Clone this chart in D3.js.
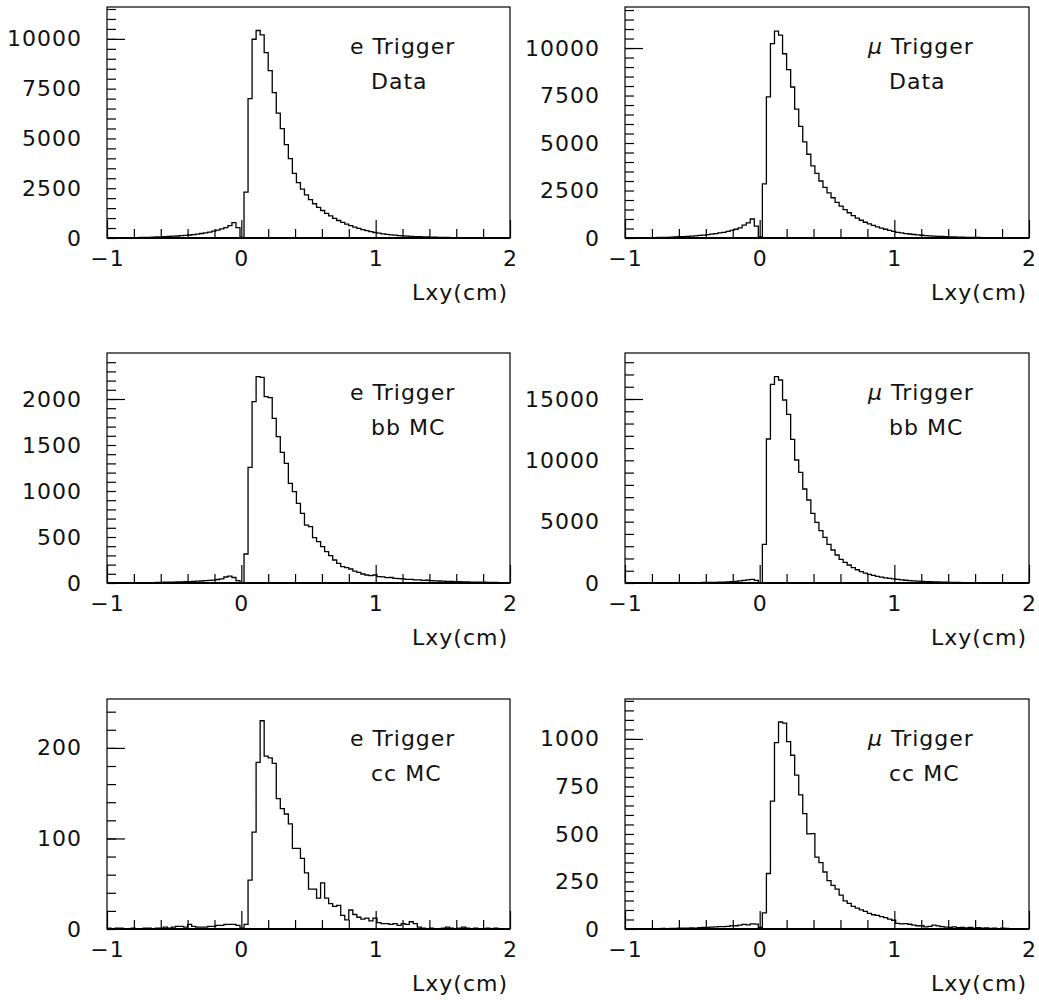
<!DOCTYPE html>
<html>
<head>
<meta charset="utf-8">
<script src="https://cdn.jsdelivr.net/npm/d3@7"></script>
<style>
  body { margin: 0; background: #fff; }
  svg text {
    font-family: "DejaVu Sans ExtraLight", "DejaVu Sans", sans-serif;
    font-size: 22px; fill: #111; letter-spacing: 1px;
  }
</style>
</head>
<body>
<div id="container"></div>
<script>
/**
 * CONSTANTS AND GLOBALS
 * */
const width = 1039, height = 1003;

// 100 bins of 0.03 cm between -1 and 2
const xLo = -1, xHi = 2, nBins = 100;
const xTickLabels = [-1, 0, 1, 2];
const xMinorTicks = [-0.8, -0.6, -0.4, -0.2, 0.2, 0.4, 0.6, 0.8, 1.2, 1.4, 1.6, 1.8];

const triggers = ["e", "μ", "e", "μ", "e", "μ"];
const samples = ["Data", "Data", "bb MC", "bb MC", "cc MC", "cc MC"];
const yMax = [11600, 12160, 2500, 18750, 254, 1210];
const yTickLabels = [
  [0, 2500, 5000, 7500, 10000],
  [0, 2500, 5000, 7500, 10000],
  [0, 500, 1000, 1500, 2000],
  [0, 5000, 10000, 15000],
  [0, 100, 200],
  [0, 250, 500, 750, 1000]
];
const yMinorStep = [500, 500, 100, 1000, 20, 50];
const yLongTicks = [[10000], [10000], [2000], [15000], [100, 200], [1000]];

// bin contents
const eData = [
  0, 5, 5, 10, 10, 15, 15, 20, 25, 30, 35, 40, 50, 55, 65, 75, 90, 100, 115, 130,
  150, 170, 195, 225, 260, 300, 350, 400, 460, 520, 620, 770, 520, 30,
  2300, 7000, 9980, 10420, 10200, 9310, 8410, 7300, 6270, 5490, 4690, 3990, 3250, 2780,
  2450, 2170, 1930, 1720, 1540, 1380, 1240, 1110, 990, 880, 780, 700, 620, 550, 485, 425,
  370, 320, 275, 240, 210, 185, 160, 140, 122, 107, 94, 83, 73, 64, 56, 49, 43, 38, 33, 29,
  25, 22, 19, 17, 15, 13, 11, 10, 9, 8, 7, 6, 5, 5, 4, 3
];
const muData = [
  5, 5, 8, 10, 12, 15, 18, 22, 27, 32, 38, 45, 55, 65, 75, 88, 100, 115, 135, 155,
  180, 205, 235, 265, 300, 345, 400, 460, 530, 680, 800, 1000, 620, 60,
  2850, 7430, 10230, 10890, 10680, 9700, 8860, 7950, 6780, 5880, 5060, 4410, 3800, 3400,
  3000, 2670, 2380, 2120, 1880, 1680, 1490, 1330, 1180, 1050, 935, 830, 740, 660, 590, 520,
  460, 400, 345, 300, 265, 235, 210, 185, 165, 145, 130, 115, 100, 90, 80, 70, 62, 55, 48, 42,
  38, 34, 30, 27, 24, 21, 19, 17, 15, 13, 12, 11, 10, 9, 8, 7
];
const eBB = [
  1, 1, 2, 2, 2, 3, 3, 3, 4, 4, 5, 5, 6, 7, 8, 9, 10, 11, 13, 14,
  16, 18, 20, 22, 25, 28, 32, 38, 45, 65, 75, 60, 25, 3,
  315, 1257, 1971, 2243, 2236, 2025, 2014, 1790, 1591, 1420, 1301, 1083, 993, 866, 757, 630,
  612, 493, 449, 395, 341, 297, 250, 214, 178, 167, 152, 130, 116, 98, 87, 80, 87,
  70, 66, 58, 60, 50, 47, 44, 40, 39, 34, 33, 29, 30, 25, 24, 22, 21, 18, 17, 15,
  15, 12, 12, 10, 9, 9, 8, 7, 6, 6, 5, 4, 3
];
const muBB = [
  0, 0, 1, 1, 2, 2, 3, 4, 5, 6, 8, 10, 12, 15, 18, 22, 26, 30, 35, 40,
  46, 52, 58, 66, 75, 90, 110, 135, 170, 210, 260, 300, 220, 25,
  3152, 11739, 16196, 16821, 16549, 14918, 13750, 11712, 10027, 9022,
  7663, 6766, 5679, 4946, 4266, 3723, 3152, 2690, 2283, 1929,
  1685, 1467, 1250, 1080, 930, 810, 710, 620, 545, 480, 420, 370, 330,
  290, 255, 225, 198, 175, 154, 136, 120, 105, 93, 82, 72, 63, 56, 49, 43, 38, 33, 29, 26,
  23, 20, 18, 16, 14, 12, 11, 10, 9, 8, 7, 6, 5
];
const eCC = [
  1, 0, 1, 1, 0, 0, 1, 0, 0, 1, 1, 0, 1, 1, 2, 1, 2, 3, 3, 2,
  5, 3, 2, 2, 2, 3, 3, 4, 4, 5, 5, 5, 4, 1,
  5, 54, 107, 184, 230, 191, 189, 183, 144, 133, 127, 116, 89, 89, 78, 62, 44, 44, 34, 51,
  34, 28, 25, 26, 15, 10, 21, 16, 13, 11, 12, 9, 12, 7, 6, 6, 5, 6, 4, 6, 5, 8, 6, 2,
  1, 0, 1, 0, 0, 1, 2, 1, 0, 1, 2, 1, 0, 1, 0, 0, 1, 0, 1, 0, 0, 0
];
const muCC = [
  1, 0, 1, 1, 1, 2, 1, 2, 2, 3, 2, 3, 3, 4, 4, 5, 6, 5, 7, 8,
  9, 10, 11, 13, 12, 14, 18, 17, 20, 24, 22, 27, 26, 8,
  85, 292, 673, 980, 1089, 1083, 986, 914, 809, 706,
  607, 500, 502, 378, 349, 300, 254, 230, 210, 178,
  148, 135, 119, 110, 101, 93, 82, 75, 72, 65,
  60, 52, 46, 30, 27, 28, 25, 20, 17, 17,
  11, 14, 20, 16, 12, 10, 8, 11, 7, 9,
  6, 8, 5, 7, 4, 6, 3, 5, 2, 4,
  3, 1, 2, 1, 2, 1
];
const series = [eData, muData, eBB, muBB, eCC, muCC];

// frame boxes of the 3x2 grid
const colX = [107, 625], colW = [403, 404];
const rowY = [7, 353, 699], rowH = [231, 230, 230];

const fmt = d => d < 0 ? "\u2212" + Math.abs(d) : String(d);

let svg;

/**
 * INIT
 * */
function init() {
  svg = d3.select("#container")
    .append("svg")
    .attr("width", width)
    .attr("height", height)
    .style("background-color", "#fff");

  series.forEach((vals, i) => drawPanel(i, vals));
}

function drawPanel(i, vals) {
  const col = i % 2, row = Math.floor(i / 2);
  const w = colW[col], h = rowH[row];
  const g = svg.append("g")
    .attr("transform", `translate(${colX[col]},${rowY[row]})`);

  const x = d3.scaleLinear().domain([xLo, xHi]).range([0, w]);
  const y = d3.scaleLinear().domain([0, yMax[i]]).range([h, 0]);

  // x axis: minor ticks, then long ticks with labels (ticks point inward)
  g.append("g")
    .attr("transform", `translate(0,${h})`)
    .call(d3.axisBottom(x).tickValues(xMinorTicks).tickSize(-9).tickFormat(""));
  g.append("g")
    .attr("transform", `translate(0,${h})`)
    .call(d3.axisBottom(x).tickValues(xTickLabels).tickSize(-18).tickPadding(12).tickFormat(fmt));

  // y axis
  const minor = d3.range(0, yMax[i], yMinorStep[i]);
  g.append("g")
    .call(d3.axisLeft(y).tickValues(minor).tickSize(-9).tickFormat(""));
  g.append("g")
    .call(d3.axisLeft(y).tickValues(yLongTicks[i]).tickSize(-18).tickFormat(""));
  g.append("g")
    .call(d3.axisLeft(y).tickValues(yTickLabels[i]).tickSize(0).tickPadding(25).tickFormat(fmt));

  g.selectAll(".domain").remove();
  g.selectAll(".tick line").attr("stroke", "#000").attr("stroke-width", 1.2);
  g.selectAll(".tick text").attr("fill", "#111").attr("font-size", null).attr("font-family", null);

  // histogram outline
  const bw = (xHi - xLo) / nBins;
  const pts = vals.map((v, k) => [xLo + k * bw, v]);
  pts.push([xHi, vals[nBins - 1]]);
  const line = d3.line()
    .x(d => x(d[0]))
    .y(d => y(d[1]))
    .curve(d3.curveStepAfter);
  g.append("path")
    .attr("d", line(pts))
    .attr("fill", "none")
    .attr("stroke", "#000")
    .attr("stroke-width", 1.3);

  // frame
  g.append("rect")
    .attr("width", w).attr("height", h)
    .attr("fill", "none").attr("stroke", "#000").attr("stroke-width", 1.2);
  g.append("line")
    .attr("x1", 0).attr("x2", w).attr("y1", h).attr("y2", h)
    .attr("stroke", "#000").attr("stroke-width", 2);

  // labels
  const t = g.append("text").attr("x", 243).attr("y", 47);
  t.append("tspan").text(triggers[i])
    .style("font-style", triggers[i] === "μ" ? "italic" : "normal");
  t.append("tspan").text(" Trigger");
  g.append("text").attr("x", 264).attr("y", 82).text(samples[i]);
  g.append("text")
    .attr("x", w - 2).attr("y", h + 62)
    .attr("text-anchor", "end")
    .text("Lxy(cm)");
}

init();
</script>
</body>
</html>
